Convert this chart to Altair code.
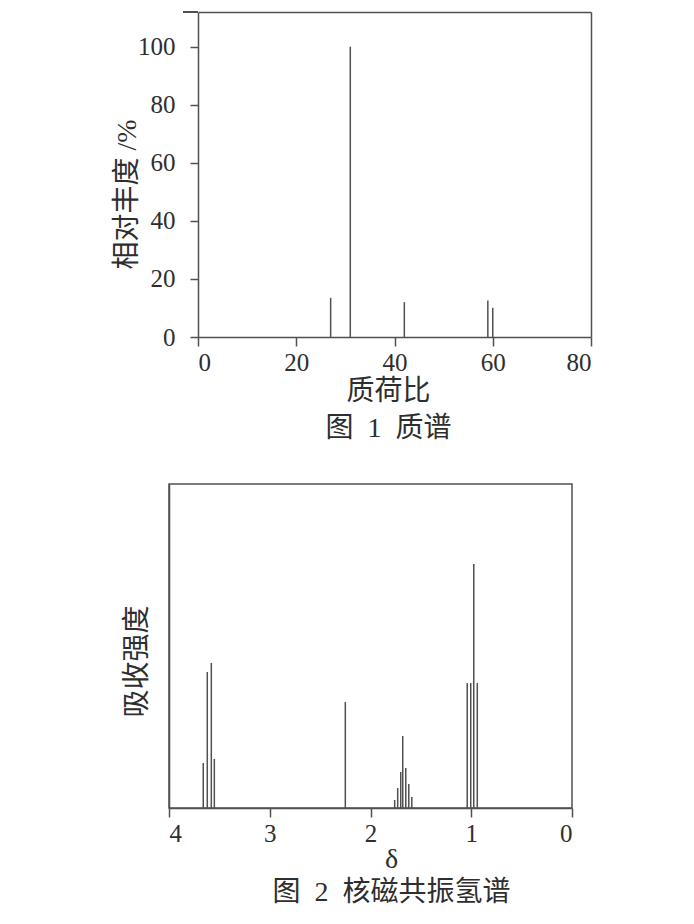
import altair as alt
import pandas as pd

# ---- Figure 1: mass spectrum ----
ms_mz = [27, 31, 42, 59, 60]
ms_abund = [13.5, 100, 12.0, 12.6, 10.1]
ms_xticks = [0, 20, 40, 60, 80]
ms_yticks = [0, 20, 40, 60, 80, 100]

# ---- Figure 2: 1H NMR ----
nmr_shift = [3.66, 3.62, 3.58, 3.55, 2.25,
             1.76, 1.73, 1.70, 1.68, 1.65, 1.62, 1.59,
             1.04, 1.005, 0.975, 0.94]
nmr_intensity = [45, 136, 145, 49, 106,
                 8, 20, 36, 72, 40, 24, 11,
                 125, 125, 244, 125]
nmr_xticks = [4, 3, 2, 1, 0]

FONT = "Liberation Serif, Noto Sans CJK SC"
INK = "#2e2e2e"
LINE = "#505050"

ms_df = pd.DataFrame({"mz": ms_mz, "abund": ms_abund})
nmr_df = pd.DataFrame({"shift": nmr_shift, "intensity": nmr_intensity})

# top panel: plot area is inset 29px from the left of its group
x_top = alt.Scale(domain=[0, 80], range=[29, 422], nice=False, zero=False)
y_top = alt.Scale(domain=[0, 112], nice=False)

top_peaks = alt.Chart(ms_df).mark_rule(color=LINE, strokeWidth=1.5).encode(
    x=alt.X("mz:Q", scale=x_top,
            axis=alt.Axis(values=ms_xticks, format="d", grid=False,
                          tickSize=9, labelPadding=4,
                          title=["质荷比", "图\u20021\u2002质谱"],
                          titleX=219, titleY=40, titleBaseline="top",
                          titleLineHeight=37)),
    y=alt.Y("abund:Q", scale=y_top,
            axis=alt.Axis(values=ms_yticks, format="d", grid=False,
                          offset=-29, tickSize=8, labelPadding=15,
                          title="相对丰度 /%",
                          titleX=-71, titleY=182, titleBaseline="middle",
                          titleAngle=270)),
    y2=alt.datum(0),
)
top_frame = alt.Chart(ms_df).mark_point(opacity=0).encode(
    x=alt.X("mz:Q", scale=x_top,
            axis=alt.Axis(orient="top", ticks=False, labels=False,
                          grid=False, title=None)),
    y=alt.Y("abund:Q", scale=y_top,
            axis=alt.Axis(orient="right", ticks=False, labels=False,
                          grid=False, title=None)),
)
top_ext = alt.Chart(ms_df).mark_rule(color=LINE, strokeWidth=1.5).encode(
    x=alt.value(14), x2=alt.value(29), y=alt.value(0)
)
top = alt.layer(top_peaks, top_frame, top_ext).resolve_axis(
    x="independent", y="independent"
).properties(width=422, height=325,
             view=alt.ViewBackground(stroke="transparent"))

bottom = alt.Chart(nmr_df).mark_rule(color=LINE, strokeWidth=1.5).encode(
    x=alt.X("shift:Q",
            scale=alt.Scale(domain=[4, 0], nice=False, zero=False),
            axis=alt.Axis(values=nmr_xticks, format="d", grid=False,
                          tickSize=9, labelPadding=4,
                          title=["δ", "图\u20022\u2002核磁共振氢谱"],
                          titleX=222, titleY=37, titleBaseline="top",
                          titleLineHeight=33)),
    y=alt.Y("intensity:Q",
            scale=alt.Scale(domain=[0, 324], nice=False),
            axis=alt.Axis(grid=False, ticks=False, labels=False,
                          title="吸收强度",
                          titleX=-32, titleY=177, titleBaseline="middle",
                          titleAngle=270)),
    y2=alt.datum(0),
).properties(width=403, height=324,
             view=alt.ViewBackground(stroke=LINE, strokeWidth=1.5))

chart = alt.vconcat(top, bottom, spacing=40).properties(
    padding={"left": 104, "top": 2, "right": 0, "bottom": 0},
    background="white",
).configure_view(
    stroke=LINE, strokeWidth=1.5
).configure_axis(
    labelFont=FONT, labelFontSize=25, labelColor=INK,
    titleFont=FONT, titleFontSize=28, titleFontWeight="normal", titleColor=INK,
    domainColor=LINE, domainWidth=1.5, tickColor=LINE, tickWidth=1.5,
)

chart.save("out.html", embed_options={"renderer": "svg", "actions": False})
